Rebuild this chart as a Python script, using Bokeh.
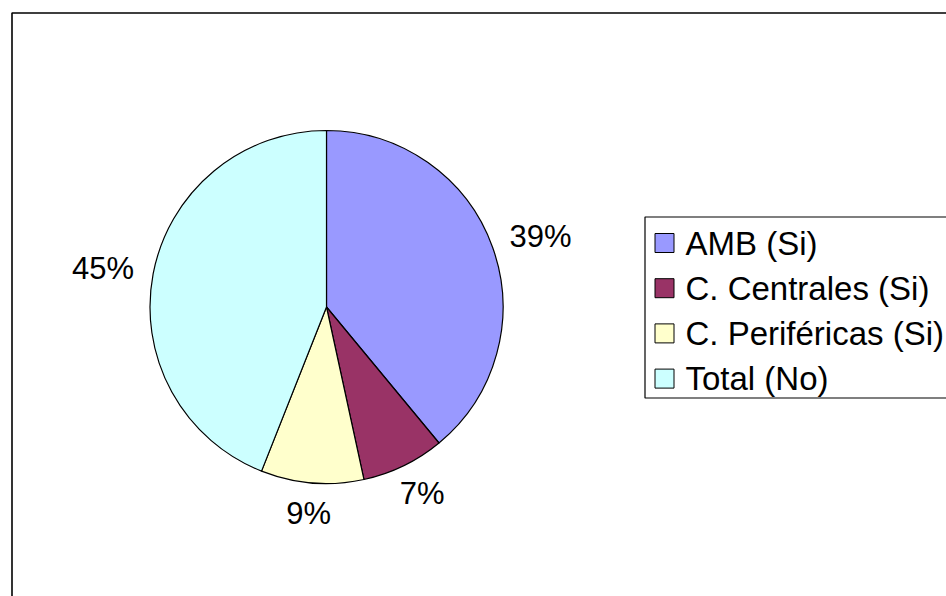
import numpy as np
from bokeh.plotting import figure
from bokeh.models import Range1d, ColumnDataSource
from bokeh.embed import file_html
from bokeh.resources import INLINE
from bokeh.core.properties import value

# ---- data ----
categories = ["AMB (Si)", "C. Centrales (Si)", "C. Periféricas (Si)", "Total (No)"]
shares = [39.0, 7.6, 9.4, 44.0]
pct_labels = ["39%", "7%", "9%", "45%"]
colors = ["#9999FF", "#993366", "#FFFFCC", "#CCFFFF"]

# ---- layout (pixel coordinates of the picture) ----
W, H = 946, 596
FONT = "Liberation Sans"


def Y(py):
    return H - py


p = figure(width=W, height=H, x_range=Range1d(0, W), y_range=Range1d(0, H),
           output_backend="svg", toolbar_location=None, min_border=0)
p.axis.visible = False
p.grid.visible = False
p.outline_line_color = None
p.background_fill_color = "white"
p.border_fill_color = "white"

# outer chart frame (right/bottom edges fall outside the window)
p.quad(left=11.5, right=3000, top=Y(12.5), bottom=-3000,
       fill_color=None, line_color="black", line_width=1.6)

# pie
cx, cy, r = 326.0, Y(306.5), 176.5
vals = np.array(shares, dtype=float)
cum = np.concatenate([[0.0], np.cumsum(vals)]) / vals.sum()
start = np.pi / 2 - 2 * np.pi * cum[:-1]
end = np.pi / 2 - 2 * np.pi * cum[1:]
src = ColumnDataSource(dict(start=start, end=end, color=colors, cat=categories))
p.wedge(x=cx, y=cy, radius=r, start_angle="start", end_angle="end",
        direction="clock", fill_color="color", line_color="black",
        line_width=1.2, source=src)

# percentage labels, placed outside like Excel
fs_lab = 31
mid = (cum[:-1] + cum[1:]) / 2 * 2 * np.pi
ux = np.sin(mid)
uy = np.cos(mid)
gap = 20
wlab = np.array([fs_lab * (0.556 * (len(s) - 1) + 0.889) for s in pct_labels])
hlab = fs_lab * 0.72
lx = cx + (r + gap) * ux + ux * wlab / 2
ly = cy + (r + gap) * uy + uy * hlab / 2
p.text(x=lx, y=ly, text=pct_labels, text_align="center", text_baseline="middle",
       text_font=value(FONT), text_font_size=f"{fs_lab}px", text_color="black")

# legend
leg_left, leg_top, leg_bottom = 644.5, 216.5, 397.5
p.quad(left=leg_left, right=3000, top=Y(leg_top), bottom=Y(leg_bottom),
       fill_color="white", line_color="black", line_width=1.2)
row0, drow = 242.5, 45.2
rows = np.array([Y(row0 + i * drow) for i in range(len(categories))])
p.rect(x=664, y=rows, width=19, height=19, fill_color=colors,
       line_color="black", line_width=1)
p.text(x=685, y=rows, text=categories, text_align="left", text_baseline="middle",
       text_font=value(FONT), text_font_size="33px", text_color="black")

open("out.html", "w").write(file_html(p, INLINE))
